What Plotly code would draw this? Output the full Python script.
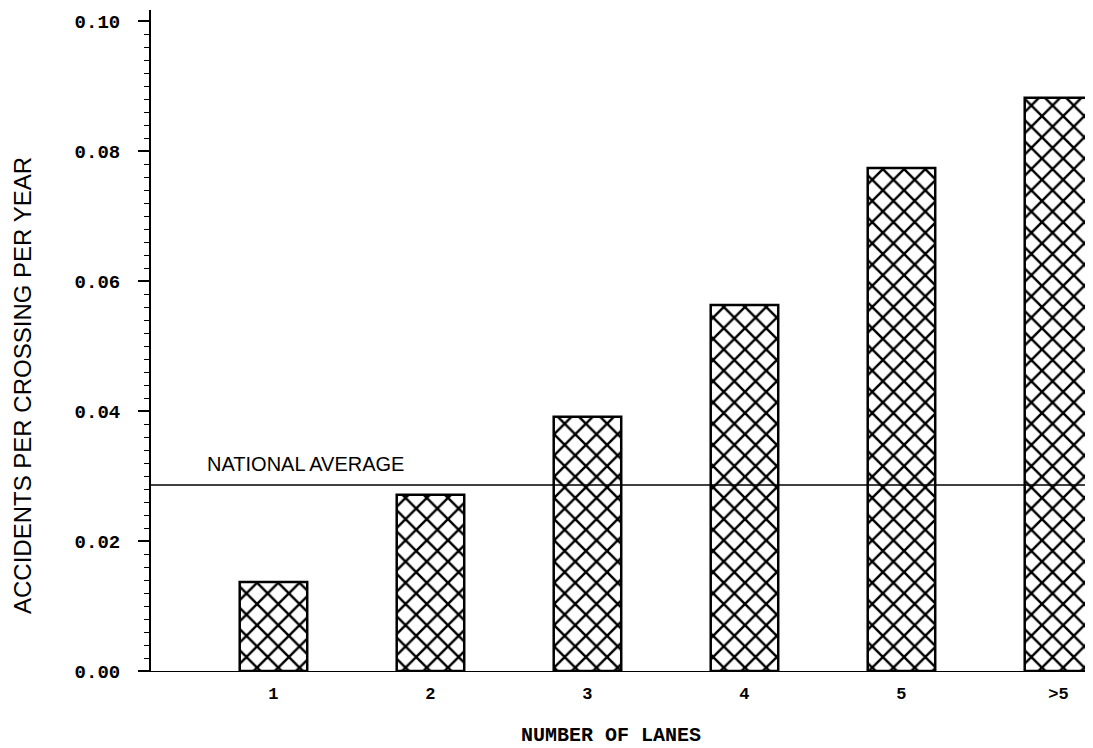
import plotly.graph_objects as go

lanes = ["1", "2", "3", "4", "5", ">5"]
accidents = [0.0137, 0.0271, 0.0391, 0.0563, 0.0774, 0.0882]
national_average = 0.0286
y_ticks = [0.00, 0.02, 0.04, 0.06, 0.08, 0.10]
y_tick_labels = ["0.00", "0.02", "0.04", "0.06", "0.08", "0.10"]

mono = "Liberation Mono, DejaVu Sans Mono, monospace"
sans = "Liberation Sans, DejaVu Sans, sans-serif"

fig = go.Figure()
fig.add_trace(go.Bar(
    x=lanes, y=accidents, width=0.43,
    marker=dict(
        color="white",
        line=dict(color="black", width=2.5),
        pattern=dict(shape="x", size=15, solidity=0.3, fgcolor="black", bgcolor="white", fgopacity=1),
    ),
    showlegend=False,
))

fig.add_shape(type="line", xref="paper", x0=0, x1=1, yref="y",
              y0=national_average, y1=national_average,
              line=dict(color="black", width=1.5), layer="above")

fig.add_annotation(text="NATIONAL AVERAGE", xref="paper", yref="y",
                   x=(205 - 151) / 942, y=national_average, xanchor="left", yanchor="bottom",
                   yshift=8, showarrow=False, font=dict(family=sans, size=20, color="black"))

fig.add_annotation(text="ACCIDENTS PER CROSSING PER YEAR", xref="paper", yref="paper",
                   x=(22 - 151) / 942, y=(671 - 386) / 661, xanchor="center", yanchor="middle",
                   textangle=-90, showarrow=False,
                   font=dict(family=sans, size=24, color="black"))

fig.add_annotation(text="<b>NUMBER OF LANES</b>", xref="paper", yref="paper",
                   x=(611 - 151) / 942, y=(671 - 735) / 661, xanchor="center", yanchor="middle",
                   showarrow=False,
                   font=dict(family=mono, size=20, color="black"))

fig.update_layout(
    width=1085, height=740,
    margin=dict(l=143, r=0, t=2, b=77),
    paper_bgcolor="white", plot_bgcolor="white",
    bargap=0.5,
)
fig.update_xaxes(
    type="category", range=[-0.78, 5.22],
    showline=True, linecolor="black", linewidth=1.2,
    showgrid=False, ticks="", zeroline=False,
    tickfont=dict(family=mono, size=17, color="black"),
    ticklabelstandoff=6,
    tickprefix="<b>", ticksuffix="</b>",
)
fig.update_yaxes(
    range=[0, 0.1017],
    tickvals=y_ticks, ticktext=["<b>" + t + "</b>" for t in y_tick_labels],
    showline=True, linecolor="black", linewidth=2,
    showgrid=False, zeroline=False,
    ticks="outside", ticklen=11, tickwidth=1.5, tickcolor="black",
    minor=dict(dtick=0.002, ticks="outside", ticklen=5, tickwidth=1.2, tickcolor="black"),
    tickfont=dict(family=mono, size=19, color="black"),
    ticklabelstandoff=14,
)

fig.write_html("out.html")
